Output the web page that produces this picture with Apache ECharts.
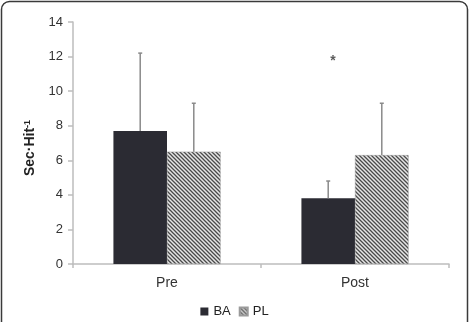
<!DOCTYPE html>
<html>
<head>
<meta charset="utf-8">
<script src="https://cdn.jsdelivr.net/npm/echarts@6/dist/echarts.min.js"></script>
<style>
  html, body { margin: 0; padding: 0; background: #fff; }
  #main { width: 469px; height: 322px; }
</style>
</head>
<body>
<div id="main"></div>
<script>
// data
var categories = ['Pre', 'Post'];
var baValues = [7.7, 3.8];
var baErrors = [4.5, 1.0];
var plValues = [6.5, 6.3];
var plErrors = [2.8, 3.0];
var yTicks = [0, 14, 2]; // min, max, step
var starAt = ['Post', 11.9];

// hatch pattern for PL
function makeHatch() {
  var c = document.createElement('canvas');
  c.width = 4; c.height = 4;
  var ctx = c.getContext('2d');
  ctx.fillStyle = '#e6e6e6';
  ctx.fillRect(0, 0, 4, 4);
  ctx.strokeStyle = '#4a4a4a';
  ctx.lineWidth = 1.3;
  ctx.beginPath();
  ctx.moveTo(-1, -1); ctx.lineTo(5, 5);
  ctx.moveTo(-1, 3); ctx.lineTo(1, 5);
  ctx.moveTo(3, -1); ctx.lineTo(5, 1);
  ctx.stroke();
  return c;
}
var hatch = { image: makeHatch(), repeat: 'repeat' };

var GAP = 0.43;

// error bars: only the upper half, drawn over each bar
function errorSeries(values, errors, slot) {
  var pts = [];
  for (var i = 0; i < values.length; i++) {
    pts.push([i, values[i], values[i] + errors[i]]);
  }
  return {
    type: 'custom',
    data: pts,
    z: 5,
    renderItem: function (params, api) {
      var band = api.size([1, 0])[0];
      var bw = band * (1 - GAP) / 2;
      var base = api.coord([api.value(0), api.value(1)]);
      var top = api.coord([api.value(0), api.value(2)]);
      var x = base[0] + (slot === 0 ? -bw / 2 : bw / 2);
      var st = { stroke: '#8a8a8a', lineWidth: 1.5 };
      return {
        type: 'group',
        children: [
          { type: 'line', shape: { x1: x, y1: base[1], x2: x, y2: top[1] }, style: st },
          { type: 'line', shape: { x1: x - 2, y1: top[1], x2: x + 2, y2: top[1] }, style: st }
        ]
      };
    }
  };
}

var chart = echarts.init(document.getElementById('main'));
var option = {
  animation: false,
  backgroundColor: '#fff',
  textStyle: { fontFamily: 'Liberation Sans, Arial, sans-serif' },
  graphic: [{
    type: 'rect',
    shape: { x: 1.5, y: 1.5, width: 466, height: 340, r: 8 },
    style: { fill: 'none', stroke: '#3a3a3a', lineWidth: 1.5 },
    silent: true
  }],
  grid: { left: 73, right: 20, top: 22, bottom: 58 },
  legend: {
    bottom: 4,
    left: 'center',
    padding: 0,
    itemWidth: 8,
    itemHeight: 8,
    itemGap: 8,
    icon: 'rect',
    textStyle: { fontSize: 13, color: '#222', padding: [0, 0, 0, 0] },
    data: ['BA', 'PL']
  },
  xAxis: {
    type: 'category',
    data: categories,
    axisLine: { lineStyle: { color: '#bdbdbd', width: 1.5 } },
    axisTick: { show: true, length: 4, lineStyle: { color: '#bdbdbd', width: 1.5 } },
    axisLabel: { fontSize: 14, color: '#333', margin: 12 }
  },
  yAxis: {
    type: 'value',
    min: yTicks[0],
    max: yTicks[1],
    interval: yTicks[2],
    name: 'Sec·Hit{sup|-1}',
    nameLocation: 'middle',
    nameGap: 36,
    nameTextStyle: {
      fontSize: 14, fontWeight: 'bold', color: '#222',
      padding: [0, 10, 0, 0],
      rich: {
        sup: { fontSize: 9, fontWeight: 'bold', color: '#222', verticalAlign: 'top', lineHeight: 14 }
      }
    },
    splitLine: { show: false },
    axisLine: { show: true, lineStyle: { color: '#bdbdbd', width: 1.5 } },
    axisTick: { show: true, length: 5, lineStyle: { color: '#bdbdbd', width: 1.5 } },
    axisLabel: { fontSize: 13, color: '#333', margin: 10 }
  },
  series: [
    {
      name: 'BA',
      type: 'bar',
      data: baValues,
      barGap: 0,
      barCategoryGap: (GAP * 100) + '%',
      itemStyle: { color: '#2b2b33' }
    },
    {
      name: 'PL',
      type: 'bar',
      data: plValues,
      barGap: 0,
      barCategoryGap: (GAP * 100) + '%',
      itemStyle: { color: hatch, borderColor: '#9a9a9a', borderWidth: 0.5 }
    },
    errorSeries(baValues, baErrors, 0),
    errorSeries(plValues, plErrors, 1),
    {
      type: 'scatter',
      data: [starAt],
      symbolSize: 0,
      silent: true,
      label: {
        show: true,
        formatter: '*',
        position: 'inside',
        offset: [-22, 3],
        fontSize: 14,
        fontWeight: 'bold',
        color: '#333'
      }
    }
  ]
};
chart.setOption(option);
</script>
</body>
</html>
